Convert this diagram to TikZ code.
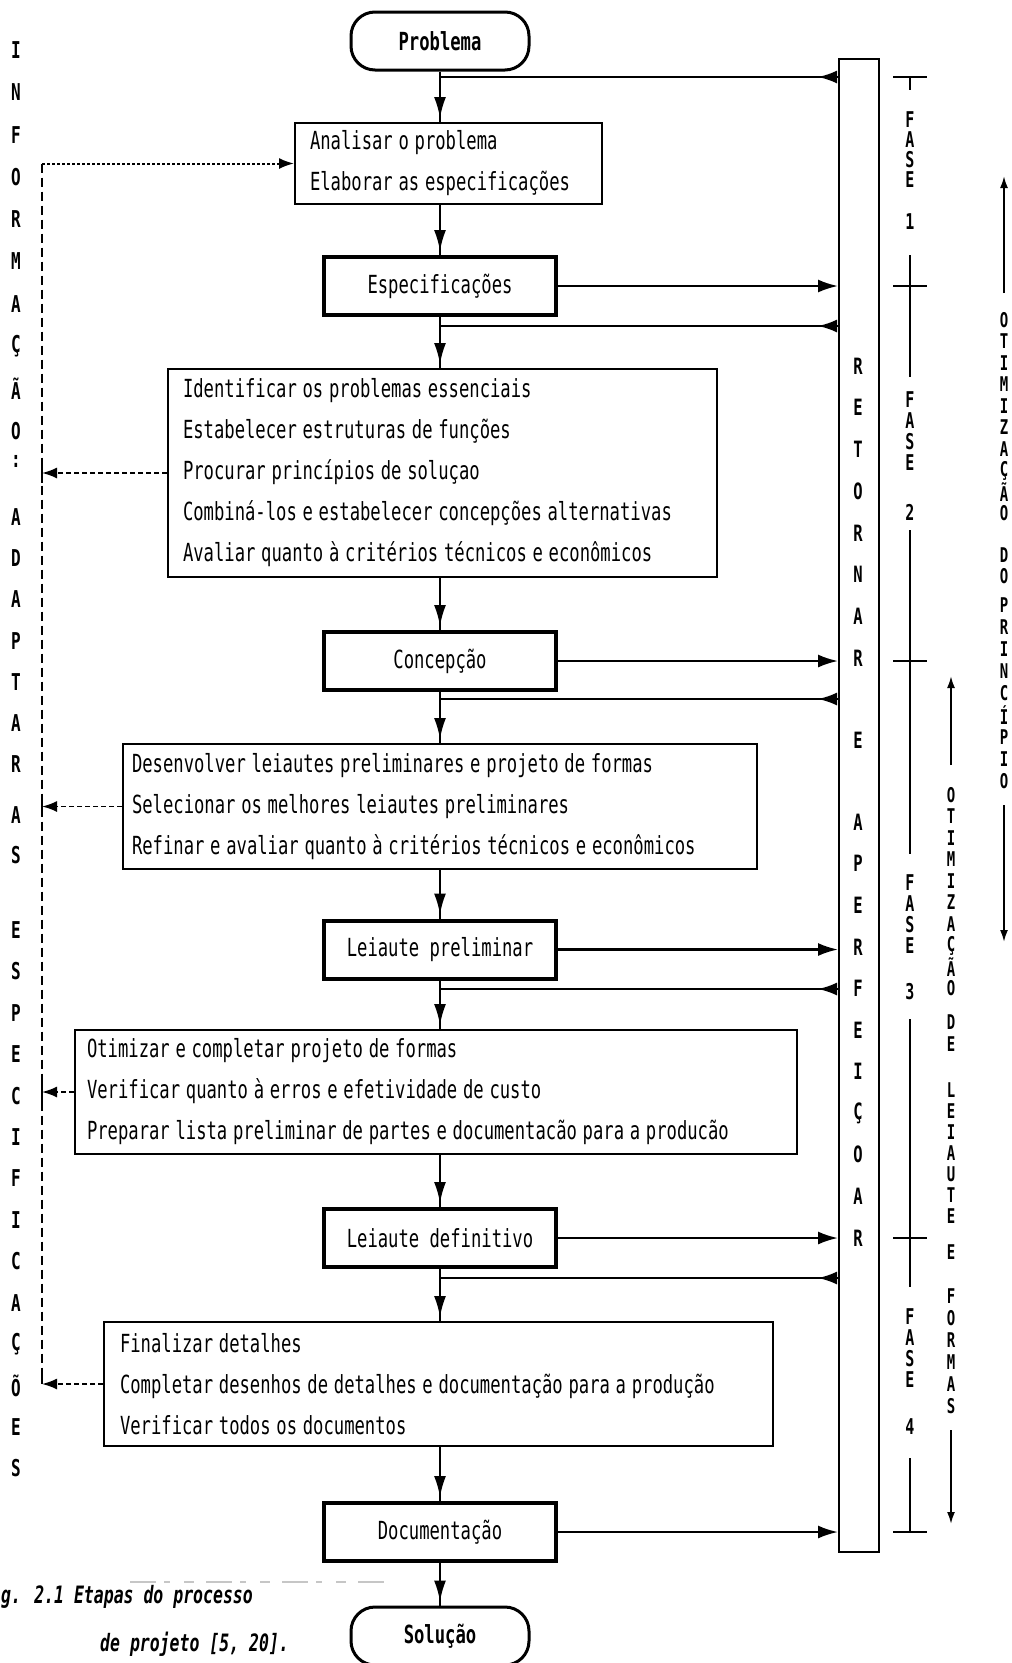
\documentclass[tikz,border=0pt]{standalone}
\usepackage{fontspec}
\usetikzlibrary{arrows.meta,calc}
\newfontfamily\mono{DejaVu Sans Mono}
\newcommand\sy[1]{\scalebox{1}[1.45]{#1}}
\newcommand\vy[1]{\scalebox{1}[1.45]{#1}}
\newcommand\vword[6]{%
  \foreach \lt [count=\i from 0] in {#6} {\node[#1] (#2\i) at (#3,{#4+\i*#5}) {\vy{\lt}};}}
\tikzset{
  txt/.style={font=\mono\fontsize{17.2}{41}\selectfont},
  listbox/.style={draw, line width=2pt, anchor=north west, align=left, txt, inner ysep=0pt},
  thickbox/.style={draw, line width=4pt, minimum width=232pt, minimum height=58pt, inner sep=0pt, txt},
  term/.style={draw, line width=3pt, rounded corners=24pt, minimum width=178pt, minimum height=58pt, inner sep=0pt,
    font=\mono\bfseries\fontsize{17.2}{20}\selectfont},
  conn/.style={line width=2.2pt},
  tipdown/.style={conn, -{Latex[length=21pt,width=12pt]}, shorten >=4pt},
  rightarr/.style={conn, -{Latex[length=20pt,width=13pt]}},
  tipfb/.style={conn, -{Latex[length=19pt,width=13pt]}},
  dashconn/.style={line width=1.8pt, dash pattern=on 5pt off 3pt, -{Latex[length=15pt,width=11pt]}},
  dottop/.style={line width=2pt, dash pattern=on 3pt off 2pt, -{Latex[length=15pt,width=11pt]}},
  dashvert/.style={line width=1.6pt, dash pattern=on 9pt off 5pt},
  tick/.style={line width=2.4pt},
  brk/.style={line width=2pt},
  brktip/.style={brk, -{Latex[length=12pt,width=8pt]}},
  lcol/.style={inner sep=0pt, font=\mono\bfseries\fontsize{16}{16}\selectfont},
  rcol/.style={inner sep=0pt, font=\mono\bfseries\fontsize{15.5}{16}\selectfont},
  fase/.style={inner sep=0pt, font=\mono\bfseries\fontsize{15}{15}\selectfont},
  ocol/.style={inner sep=0pt, font=\mono\bfseries\fontsize{14}{14}\selectfont},
  capt/.style={inner sep=0pt, anchor=west, font=\mono\bfseries\itshape\fontsize{16.5}{20}\selectfont},
}
\begin{document}
\begin{tikzpicture}[x=1pt,y=-1pt]
\useasboundingbox (0,0) rectangle (1012,1663);
\clip (0,0) rectangle (1012,1663);
\fill[white] (0,0) rectangle (1012,1663);

% main column
\node[term] (prob) at (440,41) {\sy{Problema}};
\node[listbox, minimum width=307pt, minimum height=81pt, text width=277pt, inner xsep=15pt] (ana) at (294,122)
  {\sy{Analisar o problema}\\\sy{Elaborar as especificações}};
\node[thickbox] (espec) at (440,286) {\sy{Especificações}};
\node[listbox, minimum width=549pt, minimum height=208pt, text width=519pt, inner xsep=15pt] (b3) at (167,368)
  {\sy{Identificar os problemas essenciais}\\\sy{Estabelecer estruturas de funções}\\\sy{Procurar princípios de soluçao}\\\sy{Combiná-los e estabelecer concepções alternativas}\\\sy{Avaliar quanto à critérios técnicos e econômicos}};
\node[thickbox] (conc) at (440,661) {\sy{Concepção}};
\node[listbox, minimum width=634pt, minimum height=125pt, text width=616pt, inner xsep=9pt] (b4) at (122,743)
  {\sy{Desenvolver leiautes preliminares e projeto de formas}\\\sy{Selecionar os melhores leiautes preliminares}\\\sy{Refinar e avaliar quanto à critérios técnicos e econômicos}};
\node[thickbox] (lp) at (440,949.5) {\sy{Leiaute preliminar}};
\node[listbox, minimum width=722pt, minimum height=124pt, text width=698pt, inner xsep=12pt] (b5) at (74,1029)
  {\sy{Otimizar e completar projeto de formas}\\\sy{Verificar quanto à erros e efetividade de custo}\\\sy{Preparar lista preliminar de partes e documentacão para a producão}};
\node[thickbox] (ld) at (440,1238) {\sy{Leiaute definitivo}};
\node[listbox, minimum width=669pt, minimum height=124pt, text width=637pt, inner xsep=16pt] (b6) at (103,1321)
  {\sy{Finalizar detalhes}\\\sy{Completar desenhos de detalhes e documentação para a produção}\\\sy{Verificar todos os documentos}};
\node[thickbox] (doc) at (440,1532) {\sy{Documentação}};
\node[term] (sol) at (440,1636) {\sy{Solução}};

% return bar
\node[draw, line width=2pt, anchor=north west, minimum width=40pt, minimum height=1493pt, inner sep=0pt] (bar) at (838,58) {};

% down connectors: line plus arrowhead just above the next box
\foreach \a/\b in {prob/ana, ana/espec, espec/b3, b3/conc, conc/b4, b4/lp, lp/b5, b5/ld, ld/b6, b6/doc, doc/sol} {
  \draw[conn] (\a.south -| prob) -- (\b.north -| prob);
  \draw[tipdown] (\a.south -| prob) -- (\b.north -| prob);
}

% to the bar
\foreach \a in {espec, conc, lp, ld, doc} {
  \draw[rightarr] (\a.east) -- (\a.east -| bar.west);
}

% feedback from the bar
\coordinate (fb1) at (440,77);
\coordinate (fb2) at (440,326);
\coordinate (fb3) at (440,699);
\coordinate (fb4) at (440,989);
\coordinate (fb5) at (440,1278);
\foreach \f in {fb1,fb2,fb3,fb4,fb5} {
  \draw[conn] (\f -| bar.west) -- (\f);
  \draw[tipfb] (\f -| bar.west) -- ($(\f -| bar.west)+(-20,0)$);
}

% information line
\coordinate (ix) at (42,0);
\draw[dashvert] (ana.west -| ix) -- (b6.west -| ix);
\draw[dottop] (ana.west -| ix) -- (ana.west);
\foreach \b in {b3,b4,b5} {
  \draw[dashconn] (\b.west) -- (\b.west -| ix);
  \draw[tick] ($(\b.west -| ix)+(0,-10)$) -- ($(\b.west -| ix)+(0,10)$);
}
\draw[dashconn] (b6.west) -- (b6.west -| ix);
\draw[tick] ($(b6.west -| ix)+(0,-11)$) -- (b6.west -| ix);

% left vertical text
\vword{lcol}{li}{16}{50}{42.3}{I,N,F,O,R,M,A,Ç,Ã,O}
\node[lcol] (lcolon) at (16,461) {\vy{:}};
\vword{lcol}{la}{16}{517}{41.2}{A,D,A,P,T,A,R}
\vword{lcol}{las}{16}{815}{40}{A,S}
\vword{lcol}{le}{16}{930}{41.4}{E,S,P,E,C,I,F,I,C,A,Ç,Õ,E,S}

% text inside the bar
\vword{rcol}{rr}{858}{366}{41.7}{R,E,T,O,R,N,A,R}
\node[rcol] (re) at (858,740) {\vy{E}};
\vword{rcol}{ra}{858}{822}{41.6}{A,P,E,R,F,E,I,Ç,O,A,R}

% phases
\draw[brk] (893,77) -- (927,77);
\draw[brk] (910,77) -- (910,90);
\draw[brk] (910,255) -- (910,377);
\draw[brk] (893,286) -- (927,286);
\draw[brk] (910,530) -- (910,854);
\draw[brk] (893,661) -- (927,661);
\draw[brk] (910,1019) -- (910,1287);
\draw[brk] (893,1238) -- (927,1238);
\draw[brk] (910,1458) -- (910,1532);
\draw[brk] (893,1532) -- (927,1532);
\vword{fase}{fa}{910}{120}{20}{F,A,S,E}
\node[fase] (f1) at (910,222) {\vy{1}};
\vword{fase}{fb}{910}{400}{21}{F,A,S,E}
\node[fase] (f2) at (910,512) {\vy{2}};
\vword{fase}{fc}{910}{883}{21}{F,A,S,E}
\node[fase] (f3) at (910,992) {\vy{3}};
\vword{fase}{fd}{910}{1317}{21}{F,A,S,E}
\node[fase] (f4) at (910,1427) {\vy{4}};

% optimisation of the principle
\draw[brktip] (1004,293) -- (1004,176);
\vword{ocol}{oa}{1004}{320}{21.5}{O,T,I,M,I,Z,A,Ç,Ã,O}
\vword{ocol}{ob}{1004}{555}{21}{D,O}
\vword{ocol}{oc}{1004}{605}{22}{P,R,I,N,C,Í,P,I,O}
\draw[brktip] (1004,805) -- (1004,942);

% optimisation of layout and forms
\draw[brktip] (951,765) -- (951,676);
\vword{ocol}{pa}{951}{795}{21.5}{O,T,I,M,I,Z,A,Ç,Ã,O}
\vword{ocol}{pb}{951}{1022}{22}{D,E}
\vword{ocol}{pc}{951}{1090}{21}{L,E,I,A,U,T,E}
\node[ocol] (pd) at (951,1252) {\vy{E}};
\vword{ocol}{pe}{951}{1296}{22}{F,O,R,M,A,S}
\draw[brktip] (951,1430) -- (951,1524);

% caption and scan residue
\draw[gray!45, line width=1.2pt, dash pattern=on 26pt off 8pt on 6pt off 14pt on 10pt off 12pt] (130,1582) -- (390,1582);
\node[capt] (cap1) at (1,1597) {\sy{g. 2.1 Etapas do processo}};
\node[capt] (cap2) at (100,1644) {\sy{de projeto [5, 20].}};
\end{tikzpicture}
\end{document}
